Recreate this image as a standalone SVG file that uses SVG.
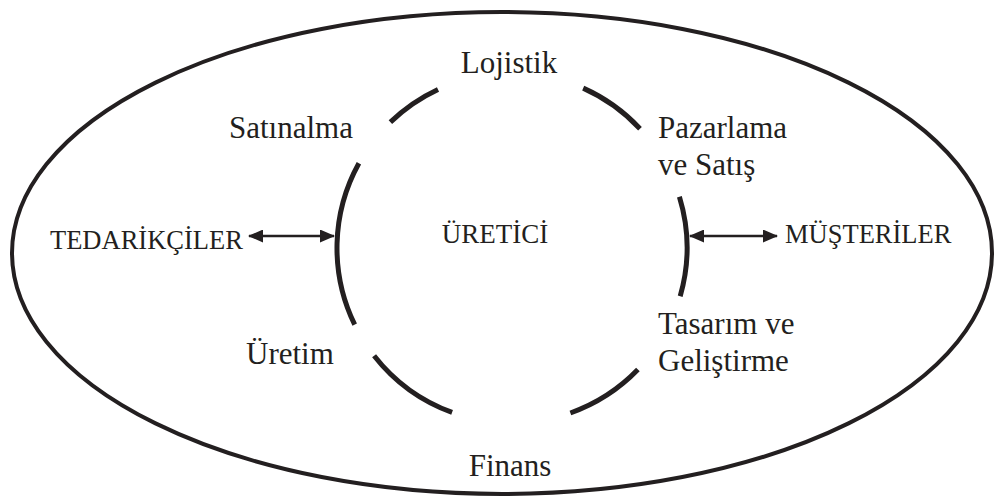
<svg xmlns="http://www.w3.org/2000/svg" width="995" height="496" viewBox="0 0 995 496">
  <style>
    .lbl { font-family: "Liberation Serif", "Times New Roman", serif; font-size: 31px; fill: #231f20; }
    .caps { font-family: "Liberation Serif", "Times New Roman", serif; font-size: 26.5px; fill: #231f20; }
    .arc { fill: none; stroke: #231f20; stroke-width: 5; stroke-linecap: butt; }
    .outer { fill: none; stroke: #231f20; stroke-width: 4; }
    .arrow { stroke: #231f20; stroke-width: 2.6; fill: none; marker-start: url(#head); marker-end: url(#head); }
  </style>
  <defs>
    <marker id="head" viewBox="0 0 15 13" refX="14" refY="6.5" markerWidth="15" markerHeight="13" markerUnits="userSpaceOnUse" orient="auto-start-reverse">
      <path d="M0,0 L15,6.5 L0,13 Z" fill="#231f20"/>
    </marker>
  </defs>
  <rect width="995" height="496" fill="#ffffff"/>

  <!-- outer environment ellipse -->
  <g id="environment">
    <ellipse class="outer" cx="502" cy="253" rx="490" ry="241"/>
  </g>

  <!-- broken ring around the producer -->
  <g id="ring">
    <path class="arc" d="M390.4,122.1 A175,175 0 0 1 438.0,89.4"/>
    <path class="arc" d="M583.2,88.1 A175,175 0 0 1 640.0,128.7"/>
    <path class="arc" d="M679.4,196.8 A175,175 0 0 1 680.2,296.2"/>
    <path class="arc" d="M637.9,369.6 A175,175 0 0 1 570.4,413.0"/>
    <path class="arc" d="M452.1,412.4 A175,175 0 0 1 374.1,355.7"/>
    <path class="arc" d="M354.7,324.7 A175,175 0 0 1 358.9,163.2"/>
  </g>

  <g id="center">
    <text class="caps" x="495" y="243" text-anchor="middle" style="font-size:27px">ÜRETİCİ</text>
  </g>

  <g id="lojistik"><text class="lbl" x="509" y="73" text-anchor="middle">Lojistik</text></g>
  <g id="satinalma"><text class="lbl" x="229" y="138">Satınalma</text></g>
  <g id="pazarlama">
    <text class="lbl" x="658" y="138">Pazarlama</text>
    <text class="lbl" x="658" y="175">ve Satış</text>
  </g>
  <g id="uretim"><text class="lbl" x="246" y="364">Üretim</text></g>
  <g id="tasarim">
    <text class="lbl" x="658" y="334">Tasarım ve</text>
    <text class="lbl" x="658" y="371">Geliştirme</text>
  </g>
  <g id="finans"><text class="lbl" x="510" y="476" text-anchor="middle">Finans</text></g>

  <g id="tedarikciler"><text class="caps" x="50" y="249">TEDARİKÇİLER</text></g>
  <g id="musteriler"><text class="caps" x="785" y="243">MÜŞTERİLER</text></g>

  <!-- connectors -->
  <g id="connectors">
    <line class="arrow" x1="249" y1="236" x2="334" y2="236"/>
    <line class="arrow" x1="690" y1="236" x2="777" y2="236"/>
  </g>
</svg>
